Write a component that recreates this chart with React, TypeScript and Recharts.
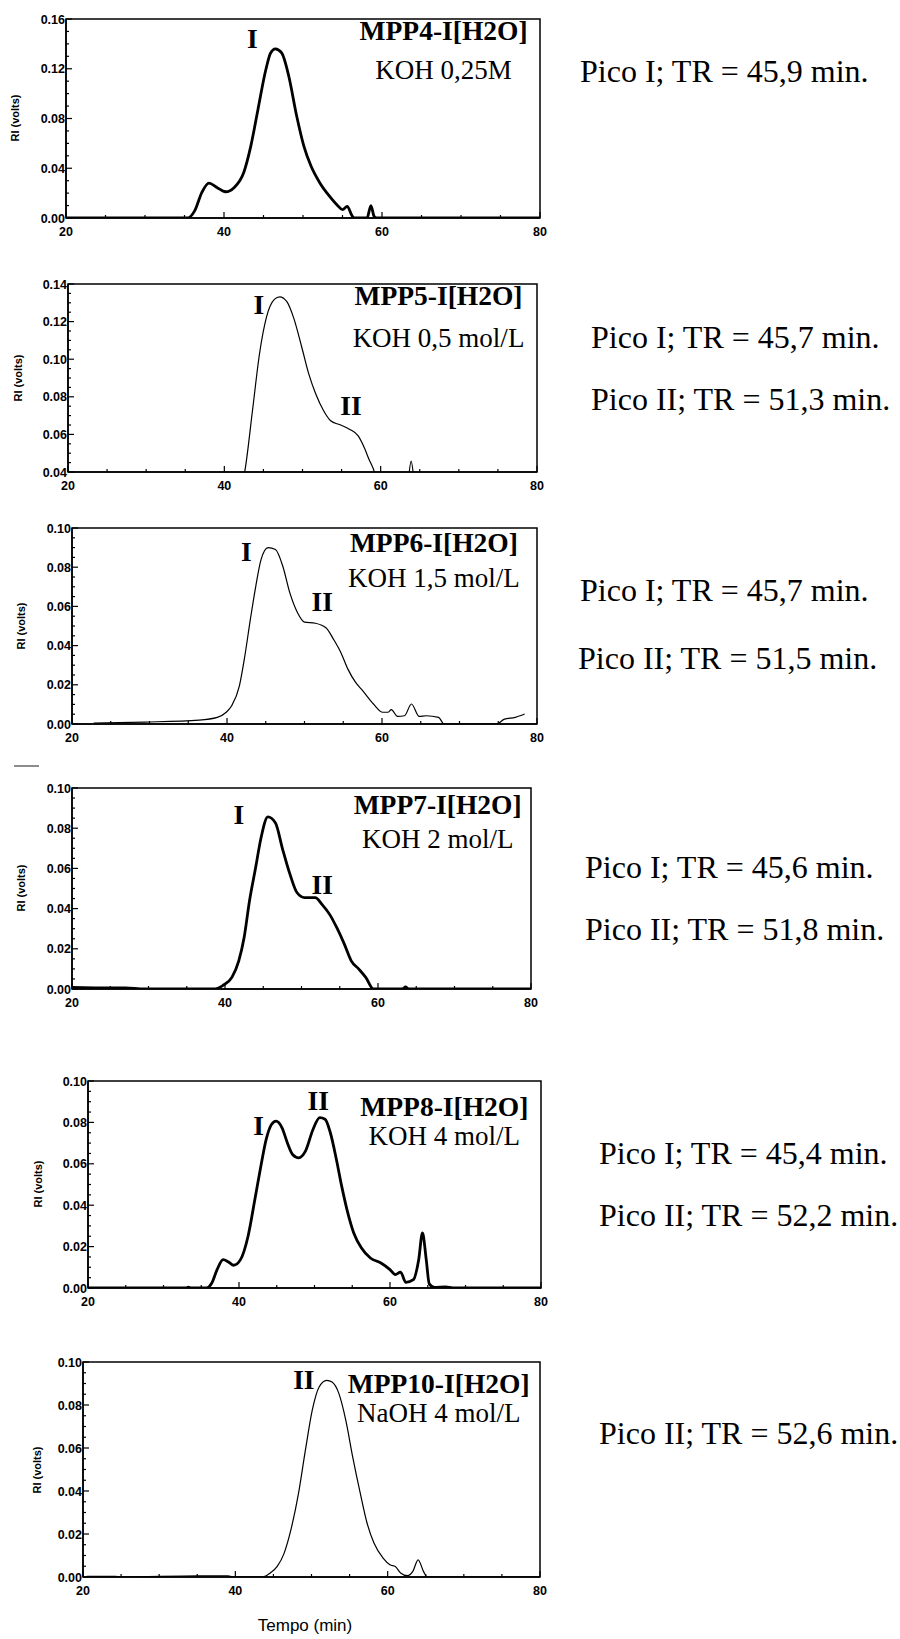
import React from 'react'
import { LineChart, Line, XAxis, YAxis, ReferenceArea, ReferenceDot } from 'recharts'

// x axis (Tempo, min)
const xLabels = [20, 40, 60, 80]

// MPP4-I[H2O] — KOH 0,25M
const mpp4Time = [20, 30, 35.4, 36.3, 37.2, 38.1, 39.1, 40.2, 41.3, 42.5, 43.4, 44.3, 45.3, 45.9, 46.5, 47.3, 48.2, 49.2, 50.1, 51.0, 52.1, 53.3, 54.4, 55.0, 55.6, 56.2, 56.5, 58.1, 58.6, 59.0, 59.3, 70, 80]
const mpp4RI = [0, 0, 0, 0.0059, 0.0206, 0.028, 0.0246, 0.0211, 0.0246, 0.0366, 0.058, 0.0873, 0.1194, 0.1327, 0.136, 0.1327, 0.114, 0.082, 0.058, 0.042, 0.0286, 0.0179, 0.0099, 0.0067, 0.0093, 0.0019, 0, 0, 0.0099, 0.0013, 0, 0, 0]

// MPP5-I[H2O] — KOH 0,5 mol/L (baseline lies below the 0.04 floor)
const mpp5Time = [20, 42.0, 42.6, 43.6, 44.5, 45.4, 46.4, 47.1, 48.0, 48.9, 49.9, 50.8, 51.7, 52.7, 53.6, 54.8, 56.0, 57.1, 57.8, 58.5, 59.2, 59.8, 63.3, 63.9, 64.5, 80]
const mpp5RI = [0.03, 0.03, 0.04, 0.0726, 0.1029, 0.1225, 0.1318, 0.1332, 0.1306, 0.1216, 0.1065, 0.0922, 0.0815, 0.0726, 0.0673, 0.0651, 0.0628, 0.0593, 0.0539, 0.0468, 0.04, 0.03, 0.03, 0.0458, 0.03, 0.03]

// MPP6-I[H2O] — KOH 1,5 mol/L
const mpp6Time = [22.8, 29.4, 36.4, 38.75, 39.9, 40.6, 41.6, 42.3, 43.0, 43.7, 44.4, 45.3, 46.25, 47.2, 48.1, 49.1, 50.0, 51.4, 52.8, 53.75, 54.7, 55.6, 56.6, 57.5, 58.9, 60.1, 60.8, 61.2, 62.0, 62.9, 63.8, 64.8, 65.7, 67.3, 68.0, 74.8, 75.8, 77.2, 78.4]
const mpp6RI = [0.0005, 0.001, 0.002, 0.0034, 0.006, 0.0093, 0.0195, 0.0347, 0.053, 0.07, 0.084, 0.09, 0.089, 0.0805, 0.067, 0.0568, 0.052, 0.0514, 0.049, 0.0432, 0.0364, 0.028, 0.0212, 0.017, 0.0102, 0.006, 0.006, 0.0073, 0.0039, 0.0042, 0.0102, 0.0039, 0.0042, 0.0034, 0, 0, 0.0025, 0.0034, 0.0051]

// MPP7-I[H2O] — KOH 2 mol/L
const mpp7Time = [20, 23, 27, 29.5, 38.5, 39.7, 40.9, 41.8, 42.5, 43.2, 44.0, 44.7, 45.6, 46.6, 47.5, 48.5, 49.4, 50.4, 51.8, 52.7, 53.7, 54.6, 55.6, 56.5, 57.5, 58.4, 59.4, 63.2, 63.6, 64.0, 80]
const mpp7RI = [0.0008, 0.0006, 0.0005, 0, 0, 0.0017, 0.0058, 0.014, 0.0256, 0.0438, 0.0603, 0.075, 0.0856, 0.0826, 0.07, 0.057, 0.048, 0.0455, 0.0455, 0.042, 0.037, 0.0306, 0.0223, 0.014, 0.0099, 0.0058, 0, 0, 0.001, 0, 0]

// MPP8-I[H2O] — KOH 4 mol/L
const mpp8Time = [20, 33.0, 33.3, 33.6, 35.7, 36.4, 37.1, 37.9, 38.6, 39.3, 40.2, 41.2, 42.1, 42.9, 43.6, 44.3, 44.9, 45.7, 46.4, 47.1, 47.9, 48.8, 49.8, 50.7, 51.4, 52.1, 52.9, 53.6, 54.3, 55.2, 56.2, 57.4, 58.8, 60.0, 60.7, 61.4, 62.1, 63.1, 63.8, 64.3, 64.8, 65.2, 65.9, 67.4, 68.3, 80]
const mpp8RI = [0, 0, 0.0004, 0, 0, 0.0024, 0.0089, 0.0137, 0.0126, 0.011, 0.0137, 0.025, 0.0427, 0.0589, 0.0718, 0.079, 0.0806, 0.0774, 0.0702, 0.0645, 0.0629, 0.0661, 0.0766, 0.0823, 0.0815, 0.075, 0.0621, 0.0492, 0.0379, 0.0266, 0.0194, 0.0145, 0.0121, 0.0089, 0.0065, 0.0077, 0.0027, 0.004, 0.0137, 0.0266, 0.0137, 0.002, 0.0003, 0.0005, 0, 0]

// MPP10-I[H2O] — NaOH 4 mol/L
const mpp10Time = [20.5, 24.2, 25, 35.3, 39, 40, 43.6, 44.6, 45.5, 46.4, 47.3, 48.3, 49.2, 50.1, 51.0, 52.0, 52.7, 53.6, 54.5, 55.4, 56.4, 57.3, 58.2, 59.4, 60.3, 61.0, 61.7, 62.6, 63.3, 64.0, 64.7, 65.2, 80]
const mpp10RI = [0.0003, 0.0003, 0, 0.0005, 0.0005, 0, 0, 0.0019, 0.0049, 0.011, 0.022, 0.039, 0.059, 0.0776, 0.0884, 0.0915, 0.0907, 0.0853, 0.073, 0.056, 0.039, 0.025, 0.0158, 0.0088, 0.0057, 0.0049, 0.0019, 0.0006, 0.0026, 0.008, 0.0026, 0, 0]

const yLabels016 = [0, 0.04, 0.08, 0.12, 0.16]
const yLabels014 = [0.04, 0.06, 0.08, 0.1, 0.12, 0.14]
const yLabels010 = [0, 0.02, 0.04, 0.06, 0.08, 0.1]

const steps = (a: number, b: number, s: number) => {
  const n = Math.round((b - a) / s)
  return Array.from({ length: n + 1 }, (_, i) => +(a + i * s).toFixed(4))
}
const xTicks = steps(20, 80, 5)

const tickFont = { fontFamily: 'Liberation Sans, Arial', fontWeight: 700, fontSize: 12.5 }

function XTick(props: any) {
  const { x, y, payload } = props
  const major = xLabels.includes(payload.value)
  return (
    <g>
      <line x1={x} x2={x} y1={y} y2={y - (major ? 6 : 3)} stroke='#000' strokeWidth={1.2} />
      {major && (
        <text x={x} y={y + 18} textAnchor='middle' fill='#000' {...tickFont}>
          {payload.value}
        </text>
      )}
    </g>
  )
}

function YTick(props: any) {
  const { x, y, payload, labels } = props
  const major = labels.some((l: number) => Math.abs(l - payload.value) < 1e-6)
  return (
    <g>
      <line x1={x} x2={x + (major ? 6 : 3)} y1={y} y2={y} stroke='#000' strokeWidth={1.2} />
      {major && (
        <text x={x - 1} y={y + 4.5} textAnchor='end' fill='#000' {...tickFont}>
          {payload.value.toFixed(2)}
        </text>
      )}
    </g>
  )
}

type Mark = { text: string; x: number; y: number; bold?: boolean }

type PanelProps = {
  top: number
  bottom: number
  left: number
  right: number
  time: number[]
  ri: number[]
  yLabels: number[]
  yStep: number
  lineWidth: number
  marks: Mark[]
}

function Panel(p: PanelProps) {
  const mt = 12
  const mr = 14
  const xh = 34
  const data = p.time.map((t, i) => ({ t, v: p.ri[i] }))
  const yMin = p.yLabels[0]
  const yMax = p.yLabels[p.yLabels.length - 1]
  return (
    <div style={{ position: 'absolute', left: 0, top: p.top - mt }}>
      <LineChart
        width={p.right + mr}
        height={p.bottom - p.top + mt + xh}
        data={data}
        margin={{ top: mt, right: mr, bottom: 0, left: 0 }}
      >
        <XAxis
          type='number'
          dataKey='t'
          domain={[20, 80]}
          ticks={xTicks}
          interval={0}
          height={xh}
          tickLine={false}
          tickSize={0}
          tickMargin={0}
          axisLine={{ stroke: '#000', strokeWidth: 1.5 }}
          tick={(t: any) => <XTick {...t} />}
          allowDataOverflow
        />
        <YAxis
          type='number'
          domain={[yMin, yMax]}
          ticks={steps(yMin, yMax, p.yStep)}
          interval={0}
          width={p.left}
          tickLine={false}
          tickSize={0}
          tickMargin={0}
          axisLine={{ stroke: '#000', strokeWidth: 1.5 }}
          tick={(t: any) => <YTick {...t} labels={p.yLabels} />}
          allowDataOverflow
        />
        <ReferenceArea x1={20} x2={80} y1={yMin} y2={yMax} fill='none' stroke='#000' strokeWidth={1.5} />
        <Line
          type='monotone'
          dataKey='v'
          stroke='#000'
          strokeWidth={p.lineWidth}
          dot={false}
          isAnimationActive={false}
        />
        {p.marks.map((m, i) => (
          <ReferenceDot
            key={i}
            x={m.x}
            y={m.y}
            r={0}
            ifOverflow='visible'
            shape={(s: any) => (
              <text
                x={s.cx}
                y={s.cy}
                textAnchor='middle'
                dominantBaseline='central'
                fill='#000'
                fontFamily='Liberation Serif, Times New Roman'
                fontWeight={m.bold ? 700 : 400}
                fontSize={m.bold ? 27.5 : 27}
              >
                {m.text}
              </text>
            )}
          />
        ))}
      </LineChart>
    </div>
  )
}

const peakTexts = [
  { text: 'Pico I; TR = 45,9 min.', x: 580, y: 82 },
  { text: 'Pico I; TR = 45,7 min.', x: 591, y: 348 },
  { text: 'Pico II; TR = 51,3 min.', x: 591, y: 410 },
  { text: 'Pico I; TR = 45,7 min.', x: 580, y: 601 },
  { text: 'Pico II; TR = 51,5 min.', x: 578, y: 669 },
  { text: 'Pico I; TR = 45,6 min.', x: 585, y: 878 },
  { text: 'Pico II; TR = 51,8 min.', x: 585, y: 940 },
  { text: 'Pico I; TR = 45,4 min.', x: 599, y: 1164 },
  { text: 'Pico II; TR = 52,2 min.', x: 599, y: 1226 },
  { text: 'Pico II; TR = 52,6 min.', x: 599, y: 1444 },
]

const riLabels = [
  { x: 15, y: 118 },
  { x: 18, y: 378 },
  { x: 21, y: 626 },
  { x: 21, y: 888 },
  { x: 38, y: 1184 },
  { x: 37, y: 1470 },
]

export default function App() {
  return (
    <div style={{ position: 'absolute', left: 0, top: 0, width: 900, height: 1639, background: '#fff' }}>
      <Panel
        top={19} bottom={218} left={66} right={540}
        time={mpp4Time} ri={mpp4RI} yLabels={yLabels016} yStep={0.01} lineWidth={2.8}
        marks={[
          { text: 'MPP4-I[H2O]', x: 67.8, y: 0.151, bold: true },
          { text: 'KOH 0,25M', x: 67.8, y: 0.119 },
          { text: 'I', x: 43.6, y: 0.144, bold: true },
        ]}
      />
      <Panel
        top={284} bottom={472} left={68} right={537}
        time={mpp5Time} ri={mpp5RI} yLabels={yLabels014} yStep={0.005} lineWidth={1.2}
        marks={[
          { text: 'MPP5-I[H2O]', x: 67.4, y: 0.134, bold: true },
          { text: 'KOH 0,5 mol/L', x: 67.4, y: 0.1115 },
          { text: 'I', x: 44.4, y: 0.129, bold: true },
          { text: 'II', x: 56.2, y: 0.0753, bold: true },
        ]}
      />
      <Panel
        top={528} bottom={724} left={72} right={537}
        time={mpp6Time} ri={mpp6RI} yLabels={yLabels010} yStep={0.005} lineWidth={1.2}
        marks={[
          { text: 'MPP6-I[H2O]', x: 66.7, y: 0.0924, bold: true },
          { text: 'KOH 1,5 mol/L', x: 66.7, y: 0.0746 },
          { text: 'I', x: 42.5, y: 0.0881, bold: true },
          { text: 'II', x: 52.3, y: 0.0627, bold: true },
        ]}
      />
      <Panel
        top={788} bottom={989} left={72} right={531}
        time={mpp7Time} ri={mpp7RI} yLabels={yLabels010} yStep={0.005} lineWidth={2.8}
        marks={[
          { text: 'MPP7-I[H2O]', x: 67.8, y: 0.0917, bold: true },
          { text: 'KOH 2 mol/L', x: 67.8, y: 0.0744 },
          { text: 'I', x: 41.8, y: 0.0868, bold: true },
          { text: 'II', x: 52.7, y: 0.052, bold: true },
        ]}
      />
      <Panel
        top={1081} bottom={1288} left={88} right={541}
        time={mpp8Time} ri={mpp8RI} yLabels={yLabels010} yStep={0.005} lineWidth={2.8}
        marks={[
          { text: 'MPP8-I[H2O]', x: 67.2, y: 0.0875, bold: true },
          { text: 'KOH 4 mol/L', x: 67.2, y: 0.0735 },
          { text: 'I', x: 42.6, y: 0.0785, bold: true },
          { text: 'II', x: 50.5, y: 0.0905, bold: true },
        ]}
      />
      <Panel
        top={1362} bottom={1577} left={83} right={540}
        time={mpp10Time} ri={mpp10RI} yLabels={yLabels010} yStep={0.005} lineWidth={1.2}
        marks={[
          { text: 'MPP10-I[H2O]', x: 66.7, y: 0.09, bold: true },
          { text: 'NaOH 4 mol/L', x: 66.7, y: 0.0764 },
          { text: 'II', x: 49.0, y: 0.092, bold: true },
        ]}
      />
      <svg
        width={900}
        height={1639}
        style={{ position: 'absolute', left: 0, top: 0, pointerEvents: 'none' }}
      >
        <line x1={14} x2={39} y1={766} y2={766} stroke='#666' strokeWidth={1.5} />
        {riLabels.map((r, i) => (
          <text
            key={i}
            x={r.x}
            y={r.y}
            transform={`rotate(-90 ${r.x} ${r.y})`}
            textAnchor='middle'
            dominantBaseline='central'
            fontFamily='Liberation Sans, Arial'
            fontWeight={700}
            fontSize={11}
          >
            RI (volts)
          </text>
        ))}
        <text x={305} y={1631} textAnchor='middle' fontFamily='Liberation Sans, Arial' fontSize={17}>
          Tempo (min)
        </text>
        {peakTexts.map((t, i) => (
          <text key={i} x={t.x} y={t.y} fontFamily='Liberation Serif, Times New Roman' fontSize={32}>
            {t.text}
          </text>
        ))}
      </svg>
    </div>
  )
}
